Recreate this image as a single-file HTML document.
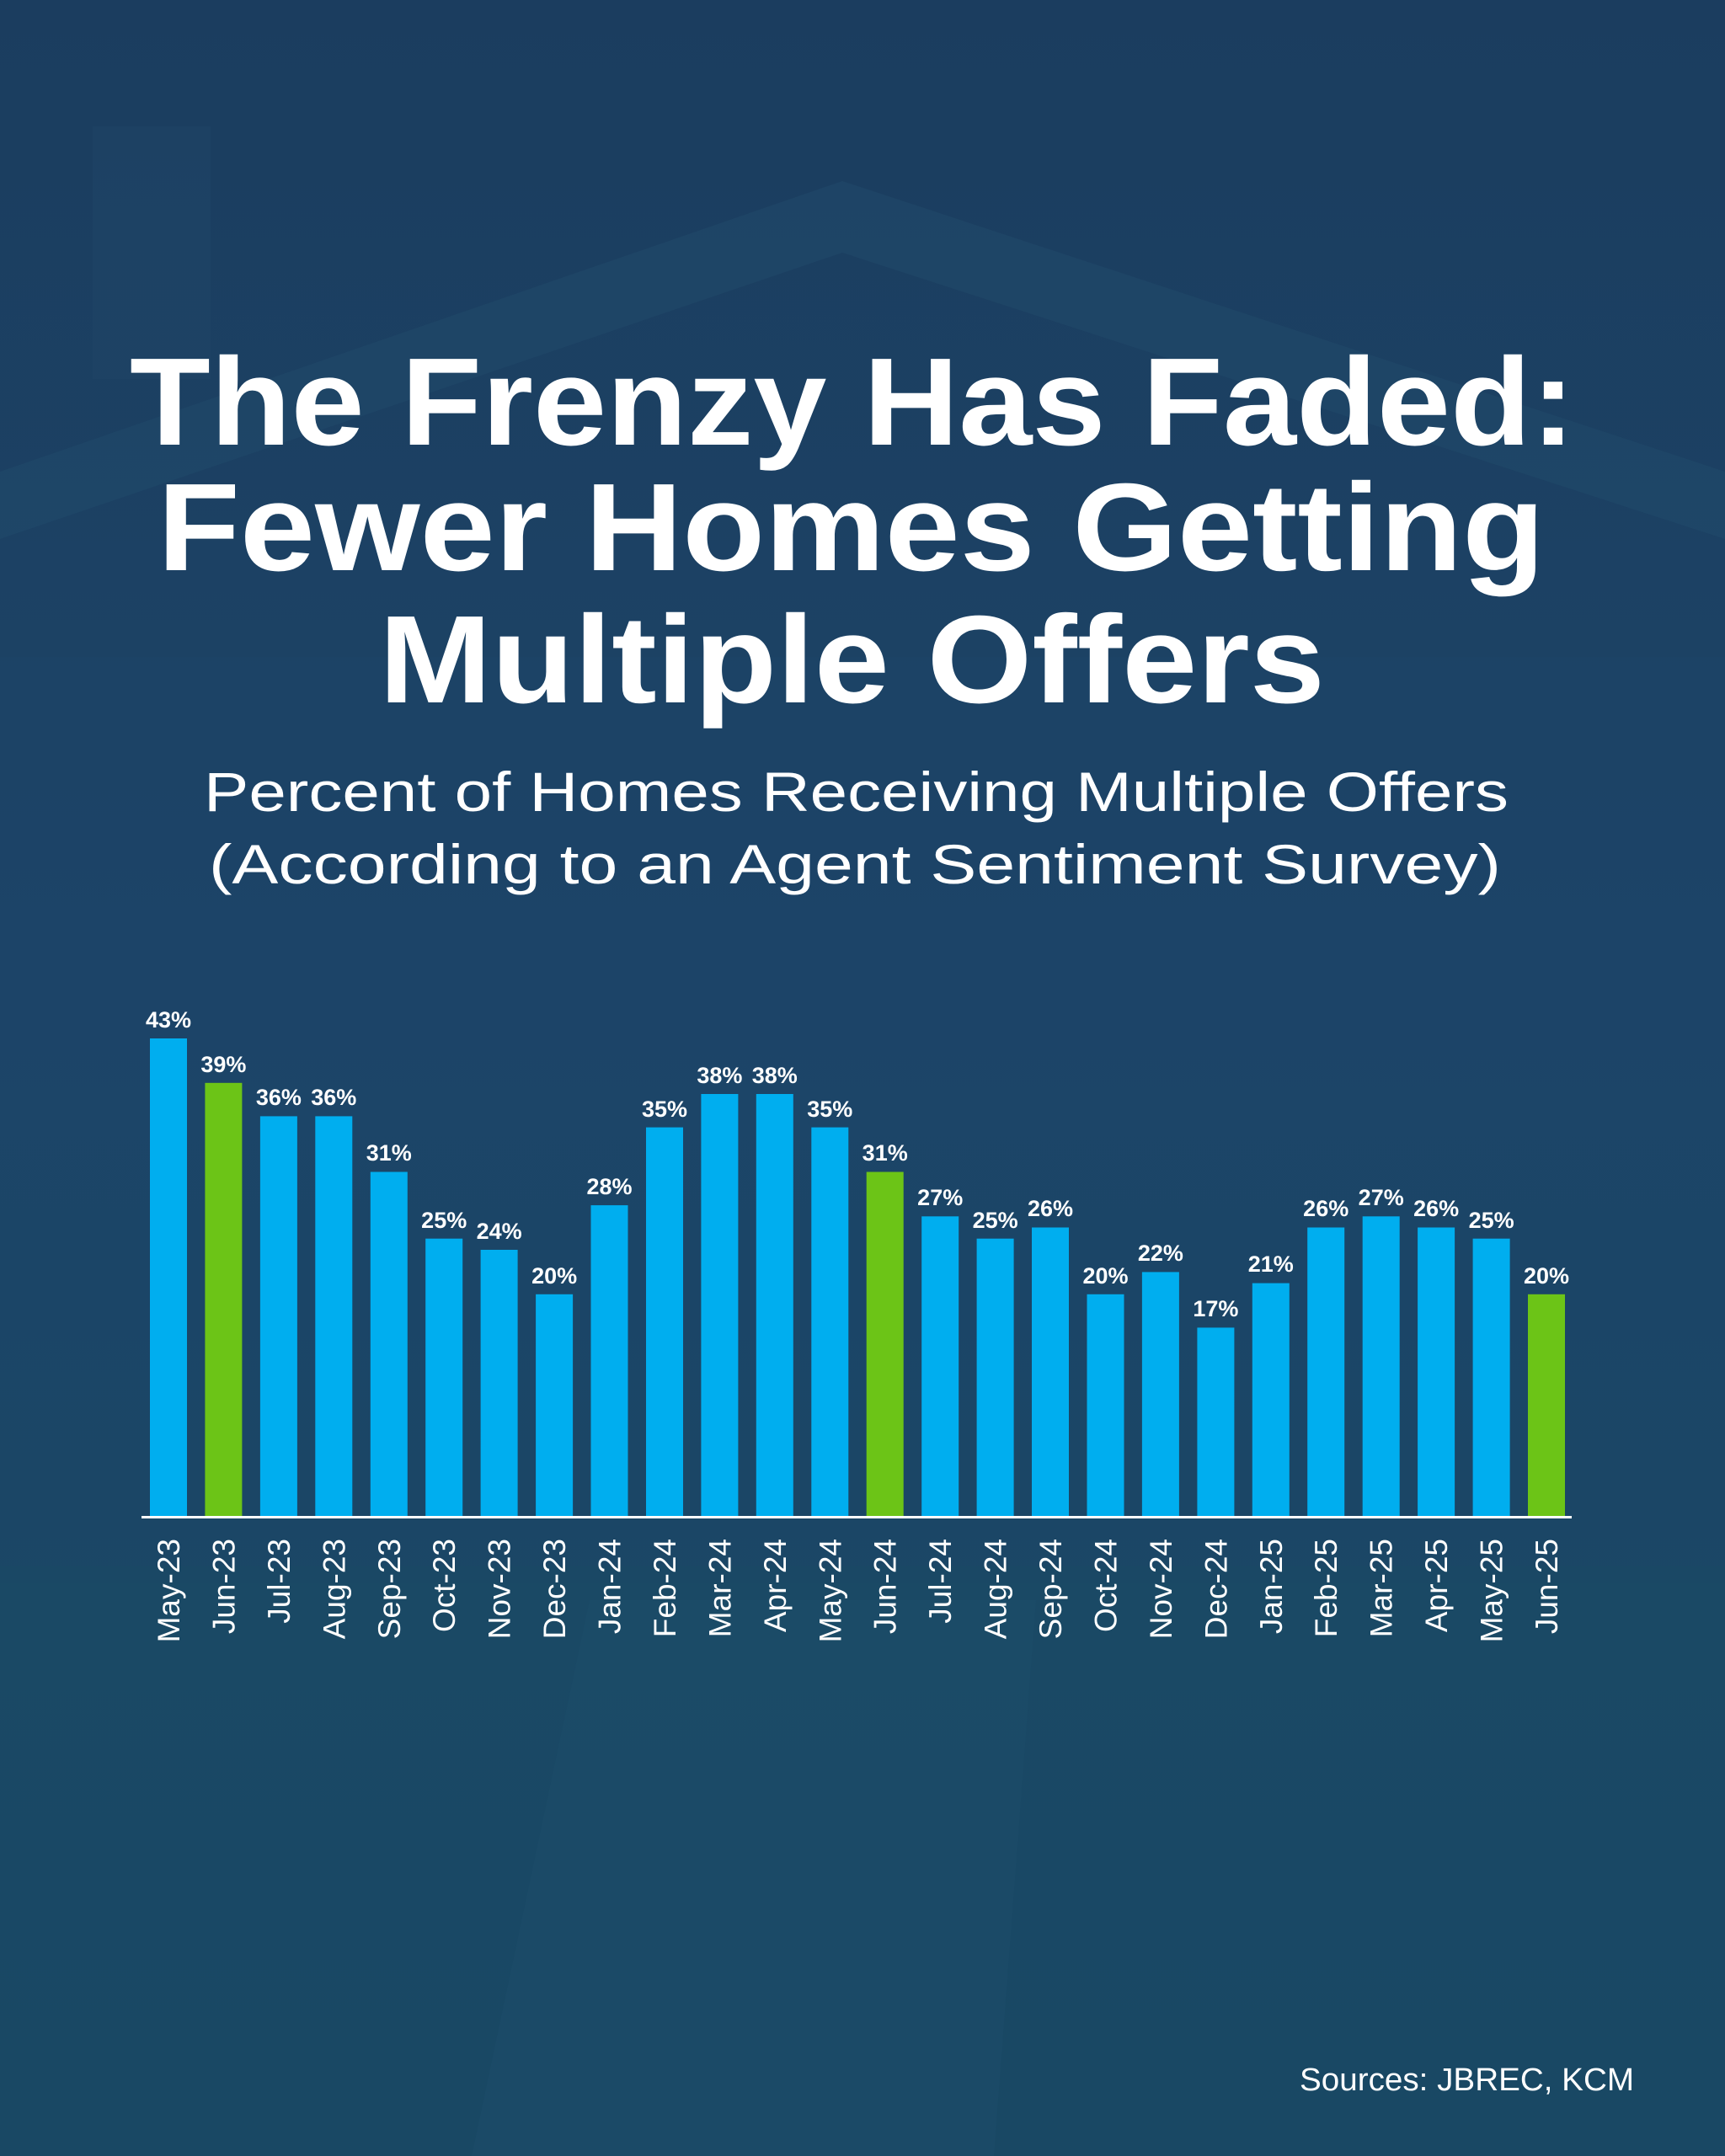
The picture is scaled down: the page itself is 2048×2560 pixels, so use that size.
<!DOCTYPE html>
<html><head><meta charset="utf-8">
<style>
html,body{margin:0;padding:0;width:2048px;height:2560px;overflow:hidden;background:#1b4263;}
svg{display:block;}
text{font-family:"Liberation Sans",sans-serif;fill:#fff;}
</style></head>
<body>
<svg width="2048" height="2560" viewBox="0 0 2048 2560" xmlns="http://www.w3.org/2000/svg">
<defs>
<linearGradient id="bg" x1="0" y1="0" x2="0" y2="1">
<stop offset="0" stop-color="#1b3d5f"/>
<stop offset="0.45" stop-color="#1c4467"/>
<stop offset="0.75" stop-color="#1a4865"/>
<stop offset="1" stop-color="#184663"/>
</linearGradient>
</defs>
<rect width="2048" height="2560" fill="url(#bg)"/>
<polygon points="0,560 1000,215 2048,560 2048,640 1000,300 0,640" fill="#24506f" opacity="0.35"/>
<rect x="110" y="150" width="140" height="300" fill="#1f4565" opacity="0.6"/>
<rect x="0" y="780" width="2048" height="1080" fill="#1d476a" opacity="0.3"/>
<rect x="0" y="1880" width="2048" height="680" fill="#1a4a66" opacity="0.5"/>
<polygon points="700,1900 1230,1900 1180,2560 560,2560" fill="#1f4f6e" opacity="0.35"/>

<g font-weight="bold" font-size="148" text-anchor="start">
<text x="154" y="528" textLength="1716" lengthAdjust="spacingAndGlyphs">The Frenzy Has Faded:</text>
<text x="187" y="677" textLength="1647" lengthAdjust="spacingAndGlyphs">Fewer Homes Getting</text>
<text x="450" y="834" textLength="1123" lengthAdjust="spacingAndGlyphs">Multiple Offers</text>
</g>
<g font-size="66">
<text x="242" y="963" textLength="1549" lengthAdjust="spacingAndGlyphs">Percent of Homes Receiving Multiple Offers</text>
<text x="248" y="1049" textLength="1534" lengthAdjust="spacingAndGlyphs">(According to an Agent Sentiment Survey)</text>
</g>

<g fill="#00aeef">
<rect x="178" y="1233" width="44" height="568"/>
<rect x="243.4" y="1285.8" width="44" height="515.2" fill="#6cc417"/>
<rect x="308.9" y="1325.4" width="44" height="475.6"/>
<rect x="374.3" y="1325.4" width="44" height="475.6"/>
<rect x="439.8" y="1391.5" width="44" height="409.5"/>
<rect x="505.2" y="1470.7" width="44" height="330.3"/>
<rect x="570.6" y="1484" width="44" height="317"/>
<rect x="636.1" y="1536.8" width="44" height="264.2"/>
<rect x="701.5" y="1431.1" width="44" height="369.9"/>
<rect x="767.0" y="1338.6" width="44" height="462.4"/>
<rect x="832.4" y="1299" width="44" height="502"/>
<rect x="897.8" y="1299" width="44" height="502"/>
<rect x="963.3" y="1338.6" width="44" height="462.4"/>
<rect x="1028.7" y="1391.5" width="44" height="409.5" fill="#6cc417"/>
<rect x="1094.2" y="1444.3" width="44" height="356.7"/>
<rect x="1159.6" y="1470.7" width="44" height="330.3"/>
<rect x="1225.0" y="1457.5" width="44" height="343.5"/>
<rect x="1290.5" y="1536.8" width="44" height="264.2"/>
<rect x="1355.9" y="1510.4" width="44" height="290.6"/>
<rect x="1421.4" y="1576.4" width="44" height="224.6"/>
<rect x="1486.8" y="1523.6" width="44" height="277.4"/>
<rect x="1552.2" y="1457.5" width="44" height="343.5"/>
<rect x="1617.7" y="1444.3" width="44" height="356.7"/>
<rect x="1683.1" y="1457.5" width="44" height="343.5"/>
<rect x="1748.6" y="1470.7" width="44" height="330.3"/>
<rect x="1814.0" y="1536.8" width="44" height="264.2" fill="#6cc417"/>
</g>
<rect x="168" y="1800" width="1698" height="3" fill="#ffffff"/>

<g font-weight="bold" font-size="27" text-anchor="middle">
<text x="200" y="1220">43%</text>
<text x="265.4" y="1273">39%</text>
<text x="330.9" y="1312">36%</text>
<text x="396.3" y="1312">36%</text>
<text x="461.8" y="1378">31%</text>
<text x="527.2" y="1458">25%</text>
<text x="592.6" y="1471">24%</text>
<text x="658.1" y="1524">20%</text>
<text x="723.5" y="1418">28%</text>
<text x="789.0" y="1326">35%</text>
<text x="854.4" y="1286">38%</text>
<text x="919.8" y="1286">38%</text>
<text x="985.3" y="1326">35%</text>
<text x="1050.7" y="1378">31%</text>
<text x="1116.2" y="1431">27%</text>
<text x="1181.6" y="1458">25%</text>
<text x="1247.0" y="1444">26%</text>
<text x="1312.5" y="1524">20%</text>
<text x="1377.9" y="1497">22%</text>
<text x="1443.4" y="1563">17%</text>
<text x="1508.8" y="1510">21%</text>
<text x="1574.2" y="1444">26%</text>
<text x="1639.7" y="1431">27%</text>
<text x="1705.1" y="1444">26%</text>
<text x="1770.6" y="1458">25%</text>
<text x="1836.0" y="1524">20%</text>
</g>

<g font-size="37" text-anchor="end">
<text transform="translate(213,1827) rotate(-90)">May-23</text>
<text transform="translate(278.4,1827) rotate(-90)">Jun-23</text>
<text transform="translate(343.9,1827) rotate(-90)">Jul-23</text>
<text transform="translate(409.3,1827) rotate(-90)">Aug-23</text>
<text transform="translate(474.8,1827) rotate(-90)">Sep-23</text>
<text transform="translate(540.2,1827) rotate(-90)">Oct-23</text>
<text transform="translate(605.6,1827) rotate(-90)">Nov-23</text>
<text transform="translate(671.1,1827) rotate(-90)">Dec-23</text>
<text transform="translate(736.5,1827) rotate(-90)">Jan-24</text>
<text transform="translate(802.0,1827) rotate(-90)">Feb-24</text>
<text transform="translate(867.4,1827) rotate(-90)">Mar-24</text>
<text transform="translate(932.8,1827) rotate(-90)">Apr-24</text>
<text transform="translate(998.3,1827) rotate(-90)">May-24</text>
<text transform="translate(1063.7,1827) rotate(-90)">Jun-24</text>
<text transform="translate(1129.2,1827) rotate(-90)">Jul-24</text>
<text transform="translate(1194.6,1827) rotate(-90)">Aug-24</text>
<text transform="translate(1260.0,1827) rotate(-90)">Sep-24</text>
<text transform="translate(1325.5,1827) rotate(-90)">Oct-24</text>
<text transform="translate(1390.9,1827) rotate(-90)">Nov-24</text>
<text transform="translate(1456.4,1827) rotate(-90)">Dec-24</text>
<text transform="translate(1521.8,1827) rotate(-90)">Jan-25</text>
<text transform="translate(1587.2,1827) rotate(-90)">Feb-25</text>
<text transform="translate(1652.7,1827) rotate(-90)">Mar-25</text>
<text transform="translate(1718.1,1827) rotate(-90)">Apr-25</text>
<text transform="translate(1783.6,1827) rotate(-90)">May-25</text>
<text transform="translate(1849.0,1827) rotate(-90)">Jun-25</text>
</g>

<text x="1543" y="2482" font-size="38" textLength="397" lengthAdjust="spacingAndGlyphs">Sources:  JBREC, KCM</text>
</svg>
</body></html>
